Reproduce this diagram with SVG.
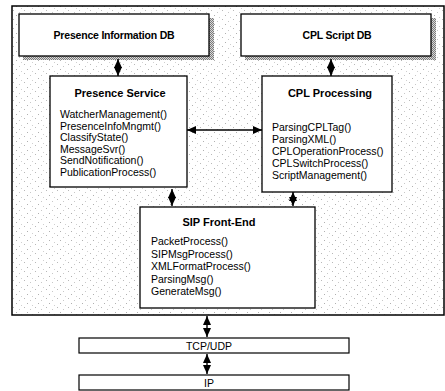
<svg xmlns="http://www.w3.org/2000/svg" width="445" height="391" viewBox="0 0 445 391">
<defs>
<pattern id="stip" width="11" height="9" patternUnits="userSpaceOnUse">
<rect x="2" y="1" width="1" height="1" fill="#b8b8b8"/>
<rect x="8" y="3" width="1" height="1" fill="#c8c8c8"/>
<rect x="5" y="6" width="1" height="1" fill="#b0b0b0"/>
<rect x="10" y="8" width="1" height="1" fill="#d0d0d0"/>
</pattern>
<pattern id="hatch" width="2" height="2" patternUnits="userSpaceOnUse">
<rect width="2" height="2" fill="#d8d8d8"/>
<rect width="1" height="1" fill="#7a7a7a"/>
<rect x="1" y="1" width="1" height="1" fill="#7a7a7a"/>
</pattern>
<marker id="ah" viewBox="0 0 9 8" refX="9" refY="4" markerWidth="9" markerHeight="8" markerUnits="userSpaceOnUse" orient="auto-start-reverse">
<path d="M0,0 L9,4 L0,8 Z" fill="#000"/>
</marker>
</defs>
<style>
.box{fill:#fff;stroke:#000;stroke-width:1.3}
.frame{fill:url(#stip);stroke:#000;stroke-width:1.5}
.layer{fill:#fff;stroke:#000;stroke-width:1.2}
.shadow{fill:url(#hatch)}
.t{font-family:"Liberation Sans",Arial,sans-serif;font-size:10.5px;fill:#000}
.b{font-family:"Liberation Sans",Arial,sans-serif;font-size:11px;font-weight:bold;fill:#000}
.db{font-family:"Liberation Sans",Arial,sans-serif;font-size:10.5px;font-weight:bold;fill:#000;letter-spacing:-0.2px}
.c{stroke:#000;stroke-width:1.4;fill:none;marker-start:url(#ah);marker-end:url(#ah)}
</style>
<rect width="445" height="391" fill="#fff"/>
<rect id="frame" class="frame" x="12" y="6" width="432" height="309"/>

<g id="presence-db">
<rect class="shadow" x="23" y="18" width="191" height="42"/>
<rect class="box" x="19" y="14" width="190" height="42"/>
<text class="db" x="114" y="39" text-anchor="middle">Presence Information DB</text>
</g>

<g id="cpl-db">
<rect class="shadow" x="245" y="18" width="191" height="42"/>
<rect class="box" x="241" y="14" width="190" height="42"/>
<text class="db" x="337" y="39" text-anchor="middle">CPL Script DB</text>
</g>

<g id="presence-service">
<rect class="box" x="50" y="76" width="137" height="111"/>
<text class="b" x="120" y="97" text-anchor="middle">Presence Service</text>
<text class="t" x="60" y="118">WatcherManagement()</text>
<text class="t" x="60" y="129.5">PresenceInfoMngmt()</text>
<text class="t" x="60" y="141">ClassifyState()</text>
<text class="t" x="60" y="152.5">MessageSvr()</text>
<text class="t" x="60" y="164">SendNotification()</text>
<text class="t" x="60" y="175.5">PublicationProcess()</text>
</g>

<g id="cpl-processing">
<rect class="box" x="262" y="76" width="130" height="116"/>
<text class="b" x="330" y="97" text-anchor="middle">CPL Processing</text>
<text class="t" x="272" y="131">ParsingCPLTag()</text>
<text class="t" x="272" y="143">ParsingXML()</text>
<text class="t" x="272" y="155">CPLOperationProcess()</text>
<text class="t" x="272" y="167">CPLSwitchProcess()</text>
<text class="t" x="272" y="179">ScriptManagement()</text>
</g>

<g id="sip-front-end">
<rect class="box" x="140" y="207" width="175" height="101"/>
<text class="b" x="219" y="226" text-anchor="middle">SIP Front-End</text>
<text class="t" x="151" y="245">PacketProcess()</text>
<text class="t" x="151" y="257.5">SIPMsgProcess()</text>
<text class="t" x="151" y="270">XMLFormatProcess()</text>
<text class="t" x="151" y="282.5">ParsingMsg()</text>
<text class="t" x="151" y="295">GenerateMsg()</text>
</g>

<g id="tcp-udp">
<rect class="layer" x="79" y="338" width="270" height="15"/>
<text class="t" x="209" y="349.5" text-anchor="middle">TCP/UDP</text>
</g>

<g id="ip">
<rect class="layer" x="79" y="375" width="270" height="15"/>
<text class="t" x="209" y="386.5" text-anchor="middle">IP</text>
</g>

<g id="connectors">
<line class="c" x1="118" y1="59" x2="118" y2="76"/>
<line class="c" x1="331" y1="59" x2="331" y2="76"/>
<line class="c" x1="187" y1="130" x2="262" y2="130"/>
<line class="c" x1="172" y1="189" x2="172" y2="206"/>
<line class="c" x1="293" y1="192" x2="293" y2="206"/>
<line class="c" x1="207" y1="316" x2="207" y2="337"/>
<line class="c" x1="207" y1="354" x2="207" y2="374"/>
</g>
</svg>
